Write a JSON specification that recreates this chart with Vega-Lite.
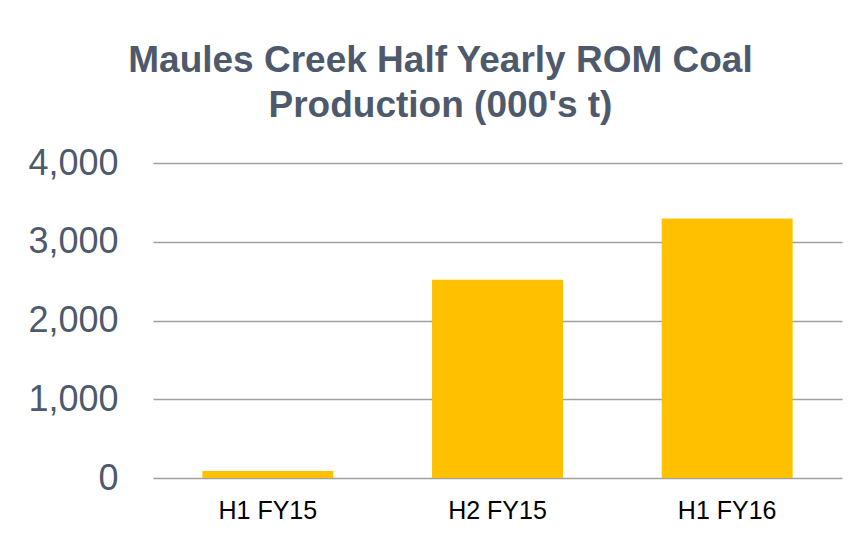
{
  "$schema": "https://vega.github.io/schema/vega-lite/v6.json",
  "autosize": {"type": "none"},
  "width": 689,
  "height": 315,
  "padding": {"left": 153, "top": 163, "right": 23, "bottom": 59},
  "background": "white",
  "title": {
    "text": ["Maules Creek Half Yearly ROM Coal", "Production (000's t)"],
    "font": "Liberation Sans",
    "fontSize": 37,
    "fontWeight": "bold",
    "color": "#4E5A6B",
    "lineHeight": 45,
    "anchor": "middle",
    "frame": "group",
    "dx": -57,
    "offset": 20
  },
  "data": {
    "values": [
      {"period": "H1 FY15", "production": 90},
      {"period": "H2 FY15", "production": 2518},
      {"period": "H1 FY16", "production": 3295}
    ]
  },
  "mark": {"type": "bar", "color": "#FFC000"},
  "encoding": {
    "x": {
      "field": "period",
      "type": "nominal",
      "sort": null,
      "scale": {"paddingInner": 0.43, "paddingOuter": 0.215},
      "axis": {
        "title": null,
        "labelAngle": 0,
        "labelFont": "Liberation Sans",
        "labelFontSize": 25,
        "labelColor": "#000000",
        "labelPadding": 20,
        "ticks": false,
        "domain": false
      }
    },
    "y": {
      "field": "production",
      "type": "quantitative",
      "scale": {"domain": [0, 4000], "nice": false},
      "axis": {
        "title": null,
        "values": [0, 1000, 2000, 3000, 4000],
        "format": ",.0f",
        "labelFont": "Liberation Sans",
        "labelFontSize": 36,
        "labelColor": "#4E5A6B",
        "labelPadding": 35,
        "ticks": false,
        "domain": false,
        "grid": true,
        "gridColor": "#A0A0A0",
        "gridWidth": 1.5
      }
    }
  },
  "config": {"view": {"stroke": null}}
}
